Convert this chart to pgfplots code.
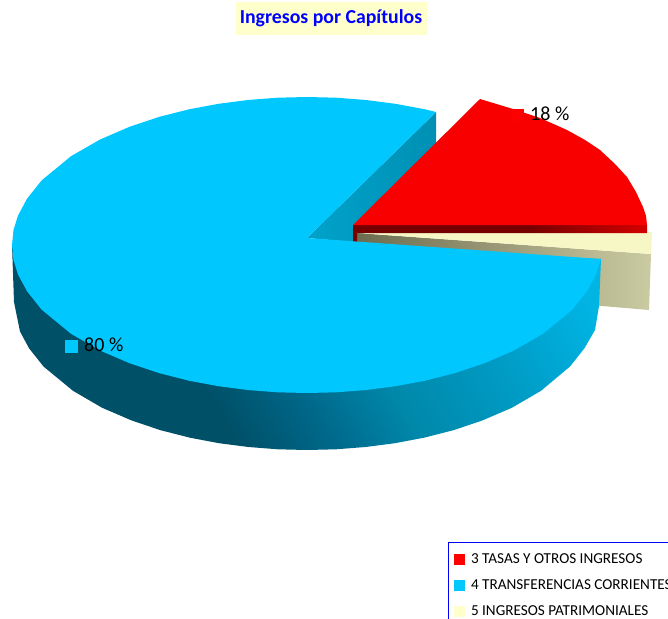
\documentclass[border=0pt]{standalone}
\usepackage{pgfplots}
\pgfplotsset{compat=1.18}
\usepackage{fontspec}
\setmainfont{Carlito}
\definecolor{pieblue}{HTML}{00C8FF}
\definecolor{piered}{HTML}{F80000}
\definecolor{piecream}{HTML}{F7F7C6}
\definecolor{legcream}{HTML}{FFFFCC}
\definecolor{bs2}{HTML}{005068}
\definecolor{bs3}{HTML}{00688A}
\definecolor{bs4}{HTML}{0088AA}
\definecolor{bs5}{HTML}{0098C0}
\definecolor{bs6}{HTML}{00B4E4}
\pgfdeclarehorizontalshading{blueside}{100bp}{color(0bp)=(bs2); color(38bp)=(bs2); color(47bp)=(bs3); color(56bp)=(bs4); color(66bp)=(bs5); color(80bp)=(bs6); color(100bp)=(bs6)}
\definecolor{bi1}{HTML}{00A2CA}
\definecolor{bi2}{HTML}{0090B4}
\pgfdeclarehorizontalshading{blueinner}{100bp}{color(0bp)=(bi1); color(25bp)=(bi1); color(75bp)=(bi2); color(100bp)=(bi2)}
\definecolor{rs1}{HTML}{760000}
\definecolor{rs2}{HTML}{D40000}
\pgfdeclarehorizontalshading{redside}{100bp}{color(0bp)=(rs1); color(25bp)=(rs1); color(55bp)=(rs1); color(75bp)=(rs2); color(100bp)=(rs2)}
\definecolor{cs1}{HTML}{6C6C50}
\definecolor{cs2}{HTML}{CBCBA2}
\pgfdeclarehorizontalshading{creamside}{100bp}{color(0bp)=(cs1); color(25bp)=(cs1); color(75bp)=(cs2); color(100bp)=(cs2)}
\begin{document}
\begin{tikzpicture}[x=1pt,y=1pt]
\clip (0,0) rectangle (668,618);
\begin{axis}[
  at={(0,0)}, anchor=south west,
  scale only axis, width=668pt, height=618pt,
  xmin=0, xmax=668, ymin=0, ymax=618, y dir=reverse,
  axis lines=none, clip=false,
  legend image code/.code={\fill[#1] (-2pt,-5pt) rectangle (8pt,5pt); \path (14pt,0pt);},
  legend style={at={(axis cs:447.5,542)}, anchor=north west, draw=blue, line width=1pt,
    fill=white, font=\fontsize{15.2}{18}\selectfont, row sep=13.5pt, inner xsep=5.5pt, inner ysep=11pt,
    cells={anchor=west}, nodes={inner sep=0.5pt}},
  legend cell align=left,
]
% Slice shares: 18 % tasas, 80 % transferencias, 2 % patrimoniales
\addlegendimage{red}
\addlegendentry{3 TASAS Y OTROS INGRESOS}
\addlegendimage{pieblue}
\addlegendentry{4 TRANSFERENCIAS CORRIENTES}
\addlegendimage{legcream}
\addlegendentry{5 INGRESOS PATRIMONIALES}
% blue inner cut face
\addplot[draw=none, shade, shading=blueinner, forget plot] coordinates {(307,238) (436,112) (436,172) (354,242)} -- cycle;
% cream inner side
\addplot[draw=none, shade, shading=creamside, forget plot] coordinates {(357,233) (651,254) (649,310) (590,305) (357,250)} -- cycle;
% cream top
\addplot[draw=none, fill=piecream, forget plot] coordinates {(357,233) (652,232) (651,254)} -- cycle;
% red side
\addplot[draw=none, shade, shading=redside, forget plot] coordinates {(353,225) (647,225) (647,233) (357,233) (357,242) (353,242)} -- cycle;
% red top
\addplot[draw=none, fill=piered, forget plot] coordinates {(353,225) (480,99) (513,109) (540,118) (567,130) (585,140) (600,150) (615,164) (627,177) (636,192) (643,207) (646,216) (647,225)} -- cycle;
% blue outer side
\addplot[draw=none, shade, shading=blueside, shading angle=30, forget plot] coordinates {
 (12,245) (14,302) (20,331.5) (29,348.2) (43.5,366.5) (73,390.8) (102,407.7) (131.5,420.4)
 (160.5,430.2) (190,437.7) (219,443.2) (248.5,447) (278,449.3) (307,450) (336,449.3)
 (365.5,447) (395,443.2) (424,437.7) (453.5,430.2) (482.5,420.4) (512,407.7) (541,390.8)
 (570,366.5) (584.5,348.2) (595,330) (599,306) (601,259) (307,245)} -- cycle;
% blue top
\addplot[draw=none, fill=pieblue, forget plot] coordinates {
 (307,238) (436,112) (425,109.3) (395.5,103.8) (366,100) (336.5,97.7) (307,97) (277.5,97.7)
 (248,100) (218.5,103.8) (189,109.3) (159.5,116.8) (130,126.6) (100.5,139.3) (71,156.2)
 (41.5,180.5) (27,198.8) (18,215.5) (13.5,230) (12,245) (13.5,260) (18,274.5) (27,291.2) (41.5,309.5)
 (71,333.8) (100.5,350.7) (130,363.4) (159.5,373.2) (189,380.7) (218.5,386.2) (248,390)
 (277.5,392.3) (307,393) (336.5,392.3) (366,390) (395.5,386.2) (425,380.7) (454.5,373.2)
 (484,363.4) (513.5,350.7) (543,333.8) (572.5,309.5) (587,291.2) (596,274.5) (601,259)} -- cycle;
% data label markers
\addplot[only marks, mark=square*, mark size=5.5pt, color=red, forget plot] coordinates {(518,115)};
\addplot[only marks, mark=square*, mark size=6pt, color=pieblue, forget plot] coordinates {(71.5,346.5)};
\node[anchor=west, inner sep=0pt, font=\fontsize{20}{24}\selectfont] at (axis cs:530,114) {18 \%};
\node[anchor=west, inner sep=0pt, font=\fontsize{20}{24}\selectfont] at (axis cs:84,345) {80 \%};
\node[fill=legcream, minimum width=191pt, minimum height=33pt, inner sep=0pt, text=blue,
  font=\fontsize{19.8}{24}\selectfont\bfseries] at (axis cs:331,18.5) {Ingresos por Capítulos};
\end{axis}
\end{tikzpicture}
\end{document}
